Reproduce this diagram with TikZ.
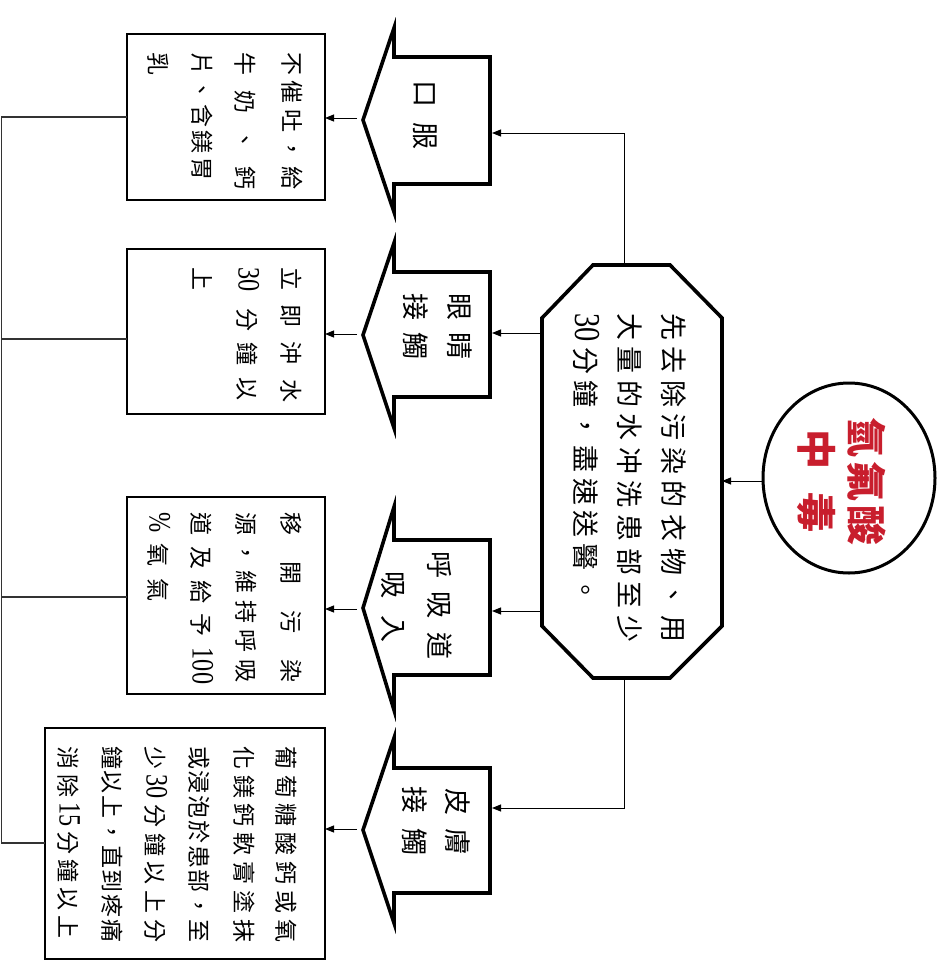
\documentclass[tikz,border=0pt]{standalone}
\usepackage{fontspec}
\setmainfont{Liberation Serif}
\newfontfamily\cjk{Noto Sans CJK TC}
\newfontfamily\lat[Scale=1.35,FakeStretch=0.78]{Liberation Serif}
\usetikzlibrary{arrows.meta}
\definecolor{titlered}{RGB}{200,30,45}
\def\spr#1{\sprB#1\relax}
\def\sprB#1{#1\sprC}
\def\sprC#1{\ifx\relax#1\else\hfil#1\expandafter\sprC\fi}
\newcommand\jline[2]{\makebox[#1pt][s]{\spr{#2}}}
\begin{document}
\begin{tikzpicture}[x=1pt,y=-1pt,
  blk/.style={line width=3.6pt, line join=miter},
  bx/.style={line width=1.2pt},
  con/.style={line width=1pt, -{Triangle[length=9pt,width=7pt]}},
  bus/.style={line width=1.2pt, draw=black!80},
  tx/.style={rotate=-90, inner sep=0pt, anchor=west},
  octtx/.style={tx, font={\cjk\fontsize{27}{27}\selectfont}},
  arrtx/.style={tx, font={\cjk\fontsize{27}{27}\selectfont}},
  boxtx/.style={tx, font={\cjk\fontsize{23}{23}\selectfont}},
  titletx/.style={tx, text=titlered, font={\cjk\bfseries\fontsize{40}{40}\selectfont}}]
\useasboundingbox (0,0) rectangle (948,961);

% title ellipse
\draw[line width=3pt] (849,478) ellipse [x radius=86, y radius=95];
\node[titletx] (t1) at (867,417) {\jline{128}{氫氟酸}};
\node[titletx] (t2) at (816,429) {\jline{103}{中毒}};

% octagon
\draw[blk] (593,265) -- (670,265) -- (722,318) -- (722,626) -- (670,678)
  -- (593,678) -- (542,626) -- (542,318) -- cycle;
\node[octtx] (o1) at (674,313) {\jline{329}{先去除污染的衣物、用}};
\node[octtx] (o2) at (630,313) {\jline{329}{大量的水冲洗患部至少}};
\node[octtx] (o3) at (586,313) {\jline{290}{{{\lat 30}}分鐘，盡速送醫。}};

% block arrows
\draw[blk] (363,120) -- (394,28) -- (394,57) -- (490,57) -- (490,184) -- (394,184) -- (394,212) -- cycle;
\draw[blk] (363,335) -- (394,243) -- (394,272) -- (490,272) -- (490,397) -- (394,397) -- (394,428) -- cycle;
\draw[blk] (363,608) -- (394,507) -- (394,540) -- (490,540) -- (490,675) -- (394,675) -- (394,710) -- cycle;
\draw[blk] (363,830) -- (394,738) -- (394,768) -- (490,768) -- (490,893) -- (394,893) -- (394,923) -- cycle;
\node[arrtx] (a1t) at (425,80) {\jline{69}{口服}};
\node[arrtx] (a2t) at (460,293) {\jline{66}{眼睛}};
\node[arrtx] (a2u) at (416,293) {\jline{66}{接觸}};
\node[arrtx] (a3t) at (440,551) {\jline{108}{呼吸道}};
\node[arrtx] (a3u) at (393,571) {\jline{71}{吸入}};
\node[arrtx] (a4t) at (458,788) {\jline{67}{皮膚}};
\node[arrtx] (a4u) at (415,786) {\jline{69}{接觸}};

% boxes
\draw[bx] (127,34) rectangle (325,200);
\draw[bx] (127,249) rectangle (325,414);
\draw[bx] (127,497) rectangle (325,694);
\draw[bx] (45,728) rectangle (325,959);

\node[boxtx] (b1a) at (292,52) {\jline{137}{不催吐，給}};
\node[boxtx] (b1b) at (245,52) {\jline{137}{牛奶、鈣}};
\node[boxtx] (b1c) at (202,52) {\jline{128}{片、含鎂胃}};
\node[boxtx] (b1d) at (158,52) {乳};

\node[boxtx] (b2a) at (291,267) {\jline{135}{立即沖水}};
\node[boxtx] (b2b) at (248,267) {\jline{133}{{{\lat 30\hspace{6pt}}}分鐘以}};
\node[boxtx] (b2c) at (203,267) {上};

\node[boxtx] (b3a) at (291,512) {\jline{170}{移開污染}};
\node[boxtx] (b3b) at (246,512) {\jline{170}{源，維持呼吸}};
\node[boxtx] (b3c) at (202,512) {\jline{172}{道及給予{{\lat 100}}}};
\node[boxtx] (b3d) at (159,512) {\jline{89}{{{\lat\%}}氧氣}};

\node[boxtx] (b4a) at (286,746) {\jline{196}{葡萄糖酸鈣或氧}};
\node[boxtx] (b4b) at (244,746) {\jline{196}{化鎂鈣軟膏塗抹}};
\node[boxtx] (b4c) at (199,746) {\jline{196}{或浸泡於患部，至}};
\node[boxtx] (b4d) at (156,746) {\jline{196}{少{{\lat 30}}分鐘以上分}};
\node[boxtx] (b4e) at (112,746) {\jline{196}{鐘以上，直到疼痛}};
\node[boxtx] (b4f) at (69,746) {\jline{192}{消除{{\lat 15}}分鐘以上}};

% connector coordinates
\coordinate (circL) at (763,481);
\coordinate (octR) at (722,481);
\coordinate (octT) at (624,265);
\coordinate (octB) at (624,678);
\coordinate (octL1) at (542,333);
\coordinate (octL2) at (542,611);
\coordinate (a1R) at (492,133);
\coordinate (a2R) at (492,333);
\coordinate (a3R) at (492,611);
\coordinate (a4R) at (492,808);
\coordinate (a1T) at (357,118);
\coordinate (a2T) at (357,334);
\coordinate (a3T) at (357,609);
\coordinate (a4T) at (357,829);
\coordinate (b1R) at (325,118);
\coordinate (b2R) at (325,334);
\coordinate (b3R) at (325,609);
\coordinate (b4R) at (325,829);
\coordinate (b1L) at (127,117);
\coordinate (b2L) at (127,339);
\coordinate (b3L) at (127,597);
\coordinate (b4L) at (45,843);
\coordinate (busT) at (1.5,117);
\coordinate (busB) at (1.5,843);

\draw[con] (circL) -- (octR);
\draw[con] (octT) |- (a1R);
\draw[con] (octL1) -- (a2R);
\draw[con] (octL2) -- (a3R);
\draw[con] (octB) |- (a4R);
\draw[con] (a1T) -- (b1R);
\draw[con] (a2T) -- (b2R);
\draw[con] (a3T) -- (b3R);
\draw[con] (a4T) -- (b4R);

\draw[bus] (b1L) -- (busT) -- (busB) -- (b4L);
\draw[bus] (b2L) -- (b2L -| busT);
\draw[bus] (b3L) -- (b3L -| busT);
\end{tikzpicture}
\end{document}
